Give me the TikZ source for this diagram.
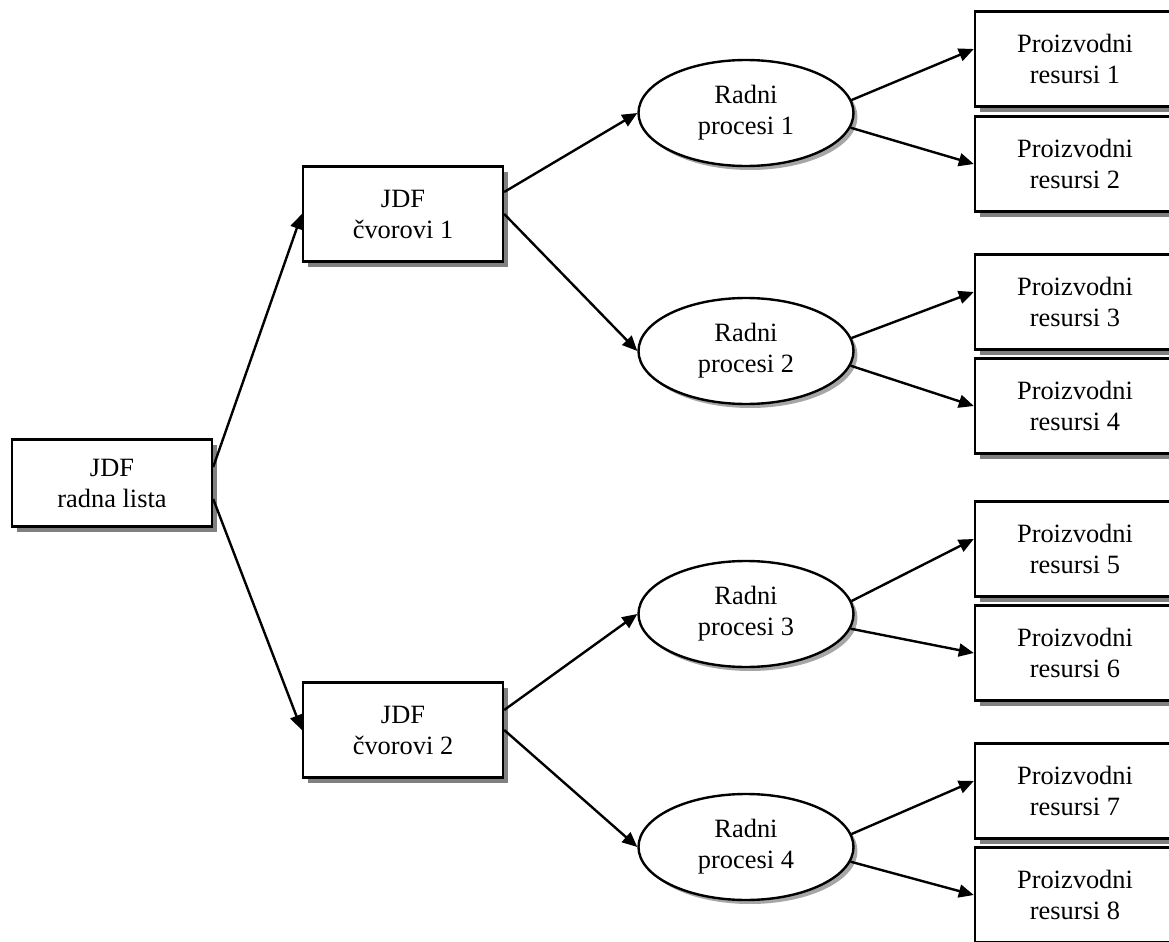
\documentclass[tikz,border=0pt]{standalone}
\usepackage{fontspec}
\setmainfont{Liberation Serif}
\usetikzlibrary{arrows.meta,shadows,shapes.geometric}

\begin{document}
\begin{tikzpicture}[x=0.5pt,y=-0.5pt,
  font=\fontsize{13.2}{15.5}\selectfont,
  box/.style={draw,line width=1.2pt,fill=white,align=center,inner sep=0pt,
    minimum width=100pt,minimum height=47.5pt,
    drop shadow={shadow xshift=2.5pt,shadow yshift=-2.5pt,fill=black!50,opacity=1}},
  proc/.style={ellipse,draw,line width=1.2pt,fill=white,align=center,inner sep=0pt,
    minimum width=107.5pt,minimum height=53pt,
    drop shadow={shadow xshift=2pt,shadow yshift=-2pt,fill=black!35,opacity=1}},
  link/.style={line width=1.2pt,-{Triangle[length=7.5pt,width=6.5pt]}}]

\useasboundingbox (0,0) rectangle (1169,942);

% Draw work list
\node[box,minimum height=43.5pt] (root) at (112,483) {JDF\\radna lista};

% Draw JDF nodes
\node[box] (cv1) at (403,214) {JDF\\čvorovi 1};
\node[box] (cv2) at (403,730) {JDF\\čvorovi 2};

% Draw work processes
\node[proc] (rp1) at (746,113) {Radni\\procesi 1};
\node[proc] (rp2) at (746,351) {Radni\\procesi 2};
\node[proc] (rp3) at (746,614) {Radni\\procesi 3};
\node[proc] (rp4) at (746,847) {Radni\\procesi 4};

% Draw production resources
\foreach \n/\y in {1/59,2/164,3/302,4/406,5/549,6/653,7/791,8/895}
  \node[box] (pr\n) at (1075,\y) {Proizvodni\\resursi \n};

% Draw arrows
\draw[link] ([yshift=8pt]root.east) -- (cv1.west);
\draw[link] ([yshift=-8pt]root.east) -- (cv2.west);
\draw[link] ([yshift=11pt]cv1.east) -- (rp1.west);
\draw[link] (cv1.east) -- (rp2.west);
\draw[link] ([yshift=10pt]cv2.east) -- (rp3.west);
\draw[link] (cv2.east) -- (rp4.west);
\foreach \i/\a/\b in {1/1/2,2/3/4,3/5/6,4/7/8} {
  \draw[link] (rp\i.7) -- ([yshift=5pt]pr\a.west);
  \draw[link] (rp\i.-8) -- (pr\b.west);
}

\end{tikzpicture}
\end{document}
